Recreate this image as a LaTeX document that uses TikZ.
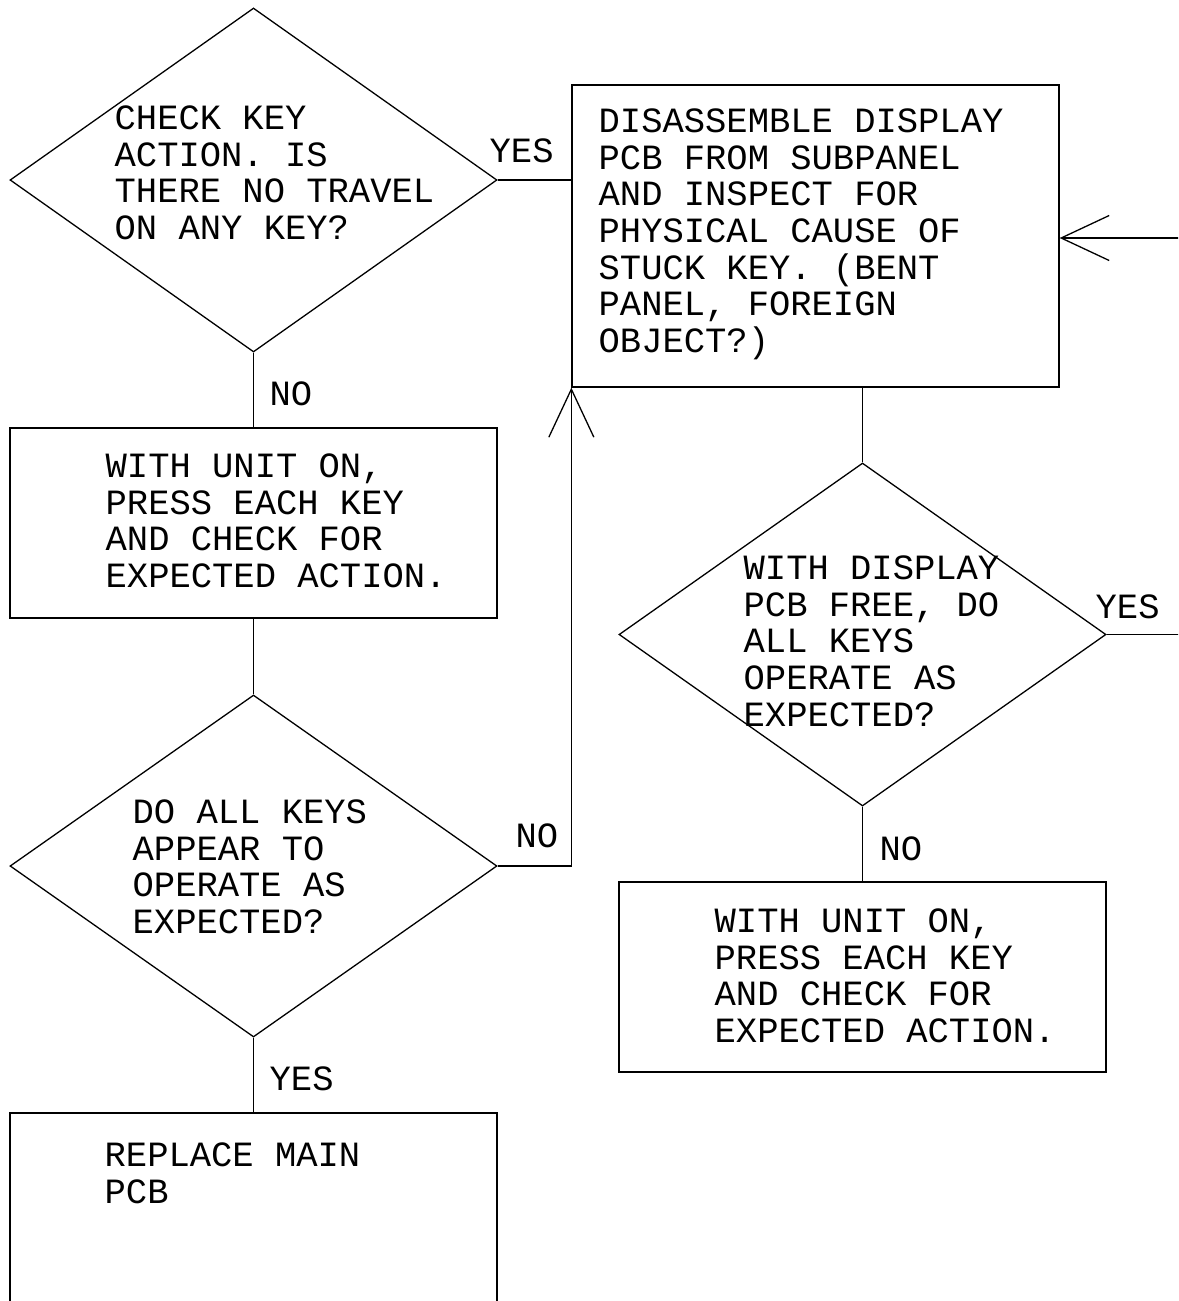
\documentclass[tikz,border=0pt]{standalone}
\usepackage{fontspec}
\newfontfamily\cadfont{Liberation Mono}
\usetikzlibrary{shapes.geometric,arrows.meta}
\begin{document}
\begin{tikzpicture}[x=1pt,y=-1pt,
  line width=1.3pt,
  flowbox/.style={draw, rectangle, minimum width=487pt, inner sep=0pt},
  decision/.style={draw, diamond, minimum width=487pt, inner sep=0pt},
  body/.style={anchor=north west, inner sep=0pt, align=left,
               font=\cadfont\fontsize{35.5}{36.7}\selectfont},
  tag/.style={anchor=base west, inner sep=0pt,
              font=\cadfont\fontsize{35.5}{36.7}\selectfont},
  barb/.style={-{Straight Barb[length=48pt,width=45pt]}}]
\useasboundingbox (0,0) rectangle (1178,1301);
\clip (0,0) rectangle (1178,1301);
\fill[white] (0,0) rectangle (1178,1301);

% shapes of the chart
\node[decision, minimum height=344pt] (d1) at (253.5,180) {};
\node[flowbox,  minimum height=302pt] (b1) at (815.5,236) {};
\node[flowbox,  minimum height=190pt] (b2) at (253.5,523) {};
\node[decision, minimum height=342pt] (d2) at (253.5,866) {};
\node[flowbox,  minimum height=190pt] (b3) at (253.5,1208) {};
\node[decision, minimum height=343pt] (d3) at (862.5,634.5) {};
\node[flowbox,  minimum height=190pt] (b4) at (862.5,977) {};

% texts inside the shapes
\node[body] (t1) at (114,105) {CHECK KEY\\ACTION. IS\\THERE NO TRAVEL\\ON ANY KEY?};
\node[body] (t2) at (598,108) {DISASSEMBLE DISPLAY\\PCB FROM SUBPANEL\\AND INSPECT FOR\\PHYSICAL CAUSE OF\\STUCK KEY. (BENT\\PANEL, FOREIGN\\OBJECT?)};
\node[body] (t3) at (105,453) {WITH UNIT ON,\\PRESS EACH KEY\\AND CHECK FOR\\EXPECTED ACTION.};
\node[body] (t4) at (132,799) {DO ALL KEYS\\APPEAR TO\\OPERATE AS\\EXPECTED?};
\node[body] (t5) at (104,1142) {REPLACE MAIN\\PCB};
\node[body] (t6) at (743,555) {WITH DISPLAY\\PCB FREE, DO\\ALL KEYS\\OPERATE AS\\EXPECTED?};
\node[body] (t7) at (714,908) {WITH UNIT ON,\\PRESS EACH KEY\\AND CHECK FOR\\EXPECTED ACTION.};

% free ends of the connectors leaving the sheet
\coordinate (inR)  at (1185,238);
\coordinate (outR) at (1185,634.5);

% connectors
\draw (d1.east) -- (d1.east -| b1.west);
\draw[barb] (inR) -- (inR -| b1.east);
\draw (d1.south) -- (b2.north);
\draw (b2.south) -- (d2.north);
\draw[barb] (d2.east) -- (d2.east -| b1.south west) -- (b1.south west);
\draw (d2.south) -- (b3.north);
\draw (d3.north |- b1.south) -- (d3.north);
\draw (d3.east) -- (outR);
\draw (d3.south) -- (b4.north);

% branch labels
\node[tag] (l1) at (489,162)  {YES};
\node[tag] (l2) at (269,405)  {NO};
\node[tag] (l3) at (515,847)  {NO};
\node[tag] (l4) at (269,1090) {YES};
\node[tag] (l5) at (1095,618) {YES};
\node[tag] (l6) at (879,860)  {NO};
\end{tikzpicture}
\end{document}
